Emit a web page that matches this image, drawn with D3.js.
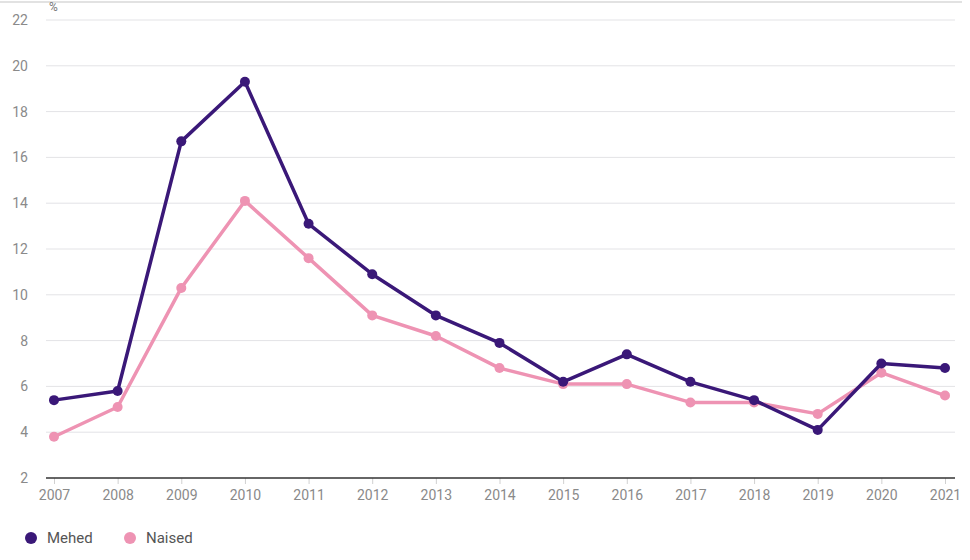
<!DOCTYPE html>
<html>
<head>
<meta charset="utf-8">
<script src="https://cdn.jsdelivr.net/npm/d3@7"></script>
<style>
  body { margin: 0; background: #fff; font-family: Roboto, "Noto Sans", sans-serif; }
</style>
</head>
<body>
<div class="chart"></div>
<script>
var width = 970;
var height = 560;
var margin = {top: 20, right: 15, bottom: 82, left: 46};

var years = [2007, 2008, 2009, 2010, 2011, 2012, 2013, 2014, 2015, 2016, 2017, 2018, 2019, 2020, 2021];
var mehed = [5.4, 5.8, 16.7, 19.3, 13.1, 10.9, 9.1, 7.9, 6.2, 7.4, 6.2, 5.4, 4.1, 7.0, 6.8];
var naised = [3.8, 5.1, 10.3, 14.1, 11.6, 9.1, 8.2, 6.8, 6.1, 6.1, 5.3, 5.3, 4.8, 6.6, 5.6];
var yTicks = [2, 4, 6, 8, 10, 12, 14, 16, 18, 20, 22];
var seriesNames = ['Mehed', 'Naised'];
var seriesColors = ['#3a1878', '#ee93b3'];

var series = [
  {name: seriesNames[0], color: seriesColors[0], values: mehed},
  {name: seriesNames[1], color: seriesColors[1], values: naised}
];

var svg = d3.select('div.chart').append('svg')
    .attr('width', width)
    .attr('height', height)
    .style('display', 'block');

var x_scale = d3.scaleLinear()
    .domain([2007, 2021])
    .range([54, 945]);
var y_scale = d3.scaleLinear()
    .domain([2, 22])
    .range([height - margin.bottom, margin.top]);

// top border
svg.append('line')
    .attr('x1', 0).attr('x2', 962)
    .attr('y1', 2).attr('y2', 2)
    .attr('stroke', '#e2e2e2')
    .attr('stroke-width', 2);

// gridlines
svg.append('g')
    .selectAll('line')
    .data(yTicks.slice(1))
    .enter()
    .append('line')
    .attr('x1', margin.left)
    .attr('x2', width - margin.right)
    .attr('y1', function(d){ return y_scale(d) })
    .attr('y2', function(d){ return y_scale(d) })
    .attr('stroke', '#e3e3e6')
    .attr('stroke-width', 1);

// y axis labels
var y_axis = d3.axisLeft(y_scale).tickValues(yTicks).tickSize(0).tickPadding(18);
svg.append('g')
    .attr('class', 'y-axis')
    .attr('transform', 'translate(' + margin.left + ',0)')
    .call(y_axis)
    .call(function(g){ g.select('.domain').remove() })
    .selectAll('text')
    .attr('fill', '#8a8a8a')
    .style('font-size', '14px')
    .style('font-family', 'Roboto, sans-serif');

svg.append('text')
    .attr('x', 49)
    .attr('y', 11)
    .attr('fill', '#777')
    .style('font-size', '12px')
    .text('%');

// x axis
var x_axis = d3.axisBottom(x_scale).tickValues(years).tickFormat(d3.format('d')).tickSize(6).tickPadding(6);
svg.append('g')
    .attr('class', 'x-axis')
    .attr('transform', 'translate(0,' + y_scale(2) + ')')
    .call(x_axis)
    .call(function(g){
        g.select('.domain').remove();
        g.selectAll('.tick line').attr('stroke', '#d0d0d0');
    })
    .selectAll('text')
    .attr('fill', '#8a8a8a')
    .style('font-size', '14px')
    .style('font-family', 'Roboto, sans-serif');

svg.append('line')
    .attr('x1', margin.left).attr('x2', width - margin.right)
    .attr('y1', y_scale(2)).attr('y2', y_scale(2))
    .attr('stroke', '#333')
    .attr('stroke-width', 1.5);

// lines and points
var line = d3.line()
    .x(function(d, i){ return x_scale(years[i]) })
    .y(function(d){ return y_scale(d) });

var groups = svg.selectAll('g.series')
    .data(series.slice().reverse())
    .enter()
    .append('g')
    .attr('class', 'series');

groups.append('path')
    .attr('d', function(d){ return line(d.values) })
    .attr('fill', 'none')
    .attr('stroke', function(d){ return d.color })
    .attr('stroke-width', 3.5)
    .attr('stroke-linejoin', 'round');

groups.each(function(s){
    d3.select(this).selectAll('circle')
        .data(s.values)
        .enter()
        .append('circle')
        .attr('cx', function(d, i){ return x_scale(years[i]) })
        .attr('cy', function(d){ return y_scale(d) })
        .attr('r', 5)
        .attr('fill', s.color);
});

// legend
var legendX = [31, 130];
var legend = svg.append('g')
    .selectAll('g')
    .data(series)
    .enter()
    .append('g')
    .attr('transform', function(d, i){ return 'translate(' + legendX[i] + ',538)' });
legend.append('circle')
    .attr('r', 6)
    .attr('fill', function(d){ return d.color });
legend.append('text')
    .attr('x', 16)
    .attr('dy', '0.35em')
    .attr('fill', '#555')
    .style('font-size', '15px')
    .text(function(d){ return d.name });
</script>
</body>
</html>
